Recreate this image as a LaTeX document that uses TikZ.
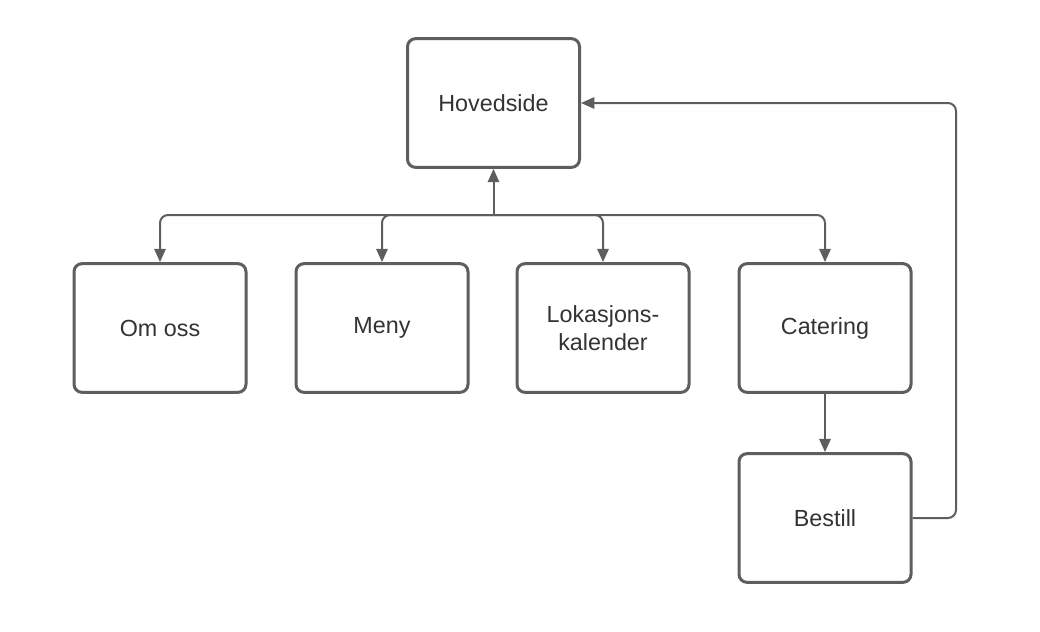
\documentclass[tikz,border=0pt]{standalone}
\usepackage{fontspec}
\setmainfont{Liberation Sans}
\usetikzlibrary{arrows.meta}
\definecolor{edge}{HTML}{5E5E5E}
\definecolor{txt}{HTML}{333333}
\begin{document}
\begin{tikzpicture}[x=0.75pt,y=-0.75pt,
  box/.style={draw=edge,line width=2.25pt,rounded corners=6pt,minimum width=129pt,minimum height=96.5pt,align=center,text=txt,font=\fontsize{17.5}{21}\selectfont,fill=white,inner sep=0pt},
  conn/.style={draw=edge,line width=1.5pt,-{Triangle[length=10pt,width=8.5pt]}}]
\useasboundingbox (0,0) rectangle (1040,632);
\node[box] (hov) at (493.5,103) {Hovedside};
\node[box] (om) at (160,328) {Om oss};
\node[box] (men) at (382,328) {Meny};
\node[box] (lok) at (603,328) {Lokasjons-\\kalender};
\node[box] (cat) at (825,328) {Catering};
\node[box] (bes) at (825,518) {Bestill};
\coordinate (j) at (493.5,215);
\draw[conn,rounded corners=6pt] (j) -- (j -| om) -- (om.north);
\draw[conn,rounded corners=6pt] (j) -- (j -| men) -- (men.north);
\draw[conn,rounded corners=6pt] (j) -- (j -| lok) -- (lok.north);
\draw[conn,rounded corners=6pt] (j) -- (j -| cat) -- (cat.north);
\draw[conn] (j) -- (hov.south);
\draw[conn] (cat.south) -- (bes.north);
\coordinate (r) at (956,0);
\draw[conn,rounded corners=6pt] (bes.east) -- (bes.east -| r) -- (hov.east -| r) -- (hov.east);
\end{tikzpicture}
\end{document}
